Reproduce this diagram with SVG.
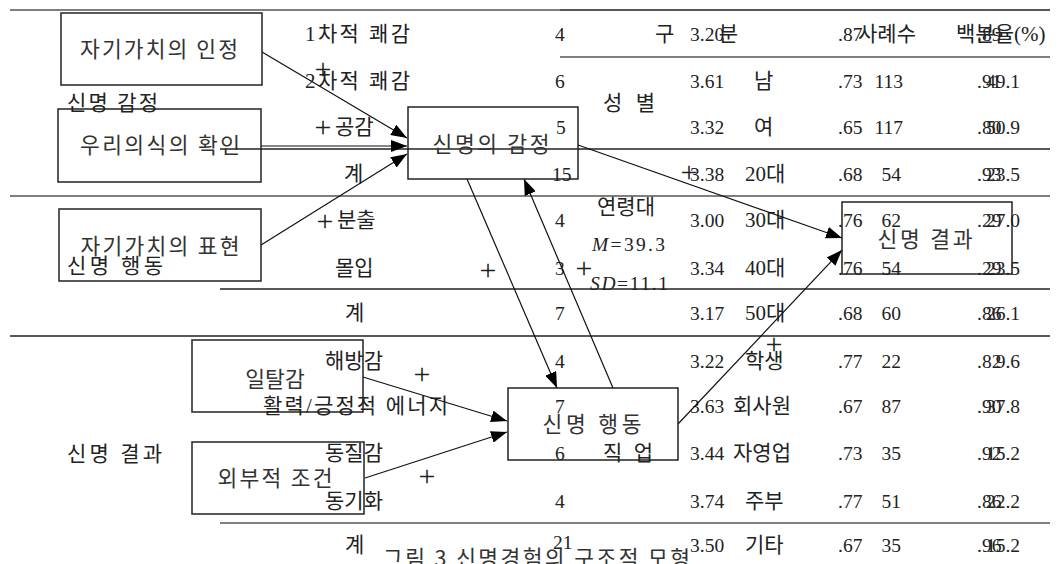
<svg xmlns="http://www.w3.org/2000/svg" width="1058" height="564" viewBox="0 0 1058 564">
<style>
.bg{fill:#fff}
.tl{stroke:#555;stroke-width:1.5;fill:none}
.tk{stroke:#222;stroke-width:1.5;fill:none}
.t{font-family:"Liberation Serif","Noto Sans CJK KR",serif;font-size:19.5px;fill:#222}
.k{font-family:"Liberation Serif","Noto Sans CJK KR",serif;font-size:21px;fill:#222}
.e{text-anchor:end}
.i{font-style:italic}
.p{font-family:"Liberation Serif",serif;font-size:30px;fill:#222;text-anchor:middle}
.box{fill:none;stroke:#222;stroke-width:1.5}
.n{font-family:"Noto Sans CJK KR",sans-serif;font-size:21.5px;fill:#333;text-anchor:middle}
.c{stroke:#111;stroke-width:1.2;fill:none;marker-end:url(#ah)}
</style>
<defs>
<marker id="ah" markerUnits="userSpaceOnUse" markerWidth="16" markerHeight="12" refX="16" refY="6" orient="auto">
<path d="M0,0 L16,6 L0,12 z" fill="#000"/>
</marker>
</defs>
<rect class="bg" x="0" y="0" width="1058" height="564"/>

<g id="table-lines">
<line class="tl" x1="10" y1="10" x2="560" y2="10"/>
<line class="tk" x1="560" y1="10" x2="1050" y2="10"/>
<line class="tl" x1="560" y1="57" x2="1050" y2="57"/>
<line class="tk" x1="220" y1="149" x2="1050" y2="149"/>
<line class="tl" x1="10" y1="196" x2="1050" y2="196"/>
<line class="tk" x1="220" y1="289" x2="1050" y2="289"/>
<line class="tk" x1="10" y1="336" x2="1050" y2="336"/>
<line class="tl" x1="220" y1="523" x2="1050" y2="523"/>
</g>

<g id="table-text">
<text class="k" x="67" y="110" textLength="91" lengthAdjust="spacing">신명 감정</text>
<text class="k" x="67" y="273" textLength="96" lengthAdjust="spacing">신명 행동</text>
<text class="k" x="67" y="461" textLength="95" lengthAdjust="spacing">신명 결과</text>

<text class="k" x="305" y="41" textLength="105" lengthAdjust="spacing">1차적 쾌감</text>
<text class="k" x="305" y="88" textLength="105" lengthAdjust="spacing">2차적 쾌감</text>
<text class="p" x="323" y="137">+</text>
<text class="k" x="335" y="134">공감</text>
<text class="k" x="344" y="181">계</text>
<text class="p" x="325" y="231">+</text>
<text class="k" x="337" y="227">분출</text>
<text class="k" x="335" y="275">몰입</text>
<text class="k" x="345" y="320">계</text>
<text class="k" x="325" y="368">해방감</text>
<text class="k" x="263" y="413" textLength="185" lengthAdjust="spacing">활력/긍정적 에너지</text>
<text class="k" x="325" y="460">동질감</text>
<text class="k" x="325" y="508">동기화</text>
<text class="k" x="345" y="552">계</text>

<text class="t" x="555" y="41">4</text>
<text class="t" x="555" y="88">6</text>
<text class="t" x="556" y="134">5</text>
<text class="t" x="552" y="181">15</text>
<text class="t" x="555" y="227">4</text>
<text class="t" x="555" y="275">3</text>
<text class="t" x="555" y="320">7</text>
<text class="t" x="555" y="368">4</text>
<text class="t" x="555" y="413">7</text>
<text class="t" x="555" y="460">6</text>
<text class="t" x="555" y="508">4</text>
<text class="t" x="553" y="549">21</text>

<text class="t" x="690" y="41">3.20</text>
<text class="t" x="690" y="88">3.61</text>
<text class="t" x="690" y="134">3.32</text>
<text class="t" x="690" y="181">3.38</text>
<text class="t" x="690" y="227">3.00</text>
<text class="t" x="690" y="275">3.34</text>
<text class="t" x="690" y="320">3.17</text>
<text class="t" x="690" y="368">3.22</text>
<text class="t" x="690" y="413">3.63</text>
<text class="t" x="690" y="460">3.44</text>
<text class="t" x="690" y="508">3.74</text>
<text class="t" x="690" y="552">3.50</text>

<text class="t" x="838" y="41">.87</text>
<text class="t" x="838" y="88">.73</text>
<text class="t" x="838" y="134">.65</text>
<text class="t" x="838" y="181">.68</text>
<text class="t" x="838" y="227">.76</text>
<text class="t" x="838" y="275">.76</text>
<text class="t" x="838" y="320">.68</text>
<text class="t" x="838" y="368">.77</text>
<text class="t" x="838" y="413">.67</text>
<text class="t" x="838" y="460">.73</text>
<text class="t" x="838" y="508">.77</text>
<text class="t" x="838" y="552">.67</text>

<text class="t" x="977" y="41">.89</text>
<text class="t" x="977" y="88">.91</text>
<text class="t" x="977" y="134">.80</text>
<text class="t" x="977" y="181">.93</text>
<text class="t" x="977" y="227">.29</text>
<text class="t" x="977" y="275">.29</text>
<text class="t" x="977" y="320">.86</text>
<text class="t" x="977" y="368">.82</text>
<text class="t" x="977" y="413">.90</text>
<text class="t" x="977" y="460">.92</text>
<text class="t" x="977" y="508">.86</text>
<text class="t" x="977" y="552">.96</text>

<text class="k" x="655" y="41" textLength="83" lengthAdjust="spacing">구 분</text>
<text class="k" x="858" y="41">사례수</text>
<text class="k" x="956" y="41">백분율(%)</text>

<text class="k" x="603" y="110" textLength="52" lengthAdjust="spacing">성 별</text>
<text class="k" x="597" y="214">연령대</text>
<text class="t" x="592" y="251" textLength="73" lengthAdjust="spacing"><tspan class="i">M</tspan>=39.3</text>
<text class="t" x="590" y="290" textLength="78" lengthAdjust="spacing"><tspan class="i">SD</tspan>=11.1</text>
<text class="k" x="603" y="460" textLength="50" lengthAdjust="spacing">직 업</text>

<text class="k" x="754" y="88">남</text>
<text class="k" x="754" y="134">여</text>
<text class="k" x="745" y="181">20대</text>
<text class="k" x="745" y="227">30대</text>
<text class="k" x="745" y="275">40대</text>
<text class="k" x="745" y="320">50대</text>
<text class="k" x="745" y="368">학생</text>
<text class="k" x="733" y="413">회사원</text>
<text class="k" x="733" y="460">자영업</text>
<text class="k" x="745" y="508">주부</text>
<text class="k" x="745" y="552">기타</text>

<text class="t e" x="903" y="88">113</text>
<text class="t e" x="903" y="134">117</text>
<text class="t e" x="901" y="181">54</text>
<text class="t e" x="901" y="227">62</text>
<text class="t e" x="901" y="275">54</text>
<text class="t e" x="901" y="320">60</text>
<text class="t e" x="901" y="368">22</text>
<text class="t e" x="901" y="413">87</text>
<text class="t e" x="901" y="460">35</text>
<text class="t e" x="901" y="508">51</text>
<text class="t e" x="901" y="552">35</text>

<text class="t e" x="1020" y="88">49.1</text>
<text class="t e" x="1020" y="134">50.9</text>
<text class="t e" x="1020" y="181">23.5</text>
<text class="t e" x="1020" y="227">27.0</text>
<text class="t e" x="1020" y="275">23.5</text>
<text class="t e" x="1020" y="320">26.1</text>
<text class="t e" x="1020" y="368">9.6</text>
<text class="t e" x="1020" y="413">37.8</text>
<text class="t e" x="1020" y="460">15.2</text>
<text class="t e" x="1020" y="508">22.2</text>
<text class="t e" x="1020" y="552">15.2</text>
</g>

<g id="signs">
<text class="p" x="323" y="79">+</text>
<text class="p" x="689" y="182">+</text>
<text class="p" x="488" y="280">+</text>
<text class="p" x="584" y="278">+</text>
<text class="p" x="422" y="384">+</text>
<text class="p" x="774" y="354">+</text>
<text class="p" x="427" y="486">+</text>
</g>

<g id="connectors">
<line class="c" x1="262" y1="52" x2="407" y2="138"/>
<line class="c" x1="261" y1="146" x2="407" y2="146"/>
<line class="c" x1="261" y1="245" x2="407" y2="154"/>
<line class="c" x1="467" y1="179" x2="557" y2="388"/>
<line class="c" x1="613" y1="388" x2="524" y2="179"/>
<line class="c" x1="578" y1="145" x2="842" y2="238"/>
<line class="c" x1="678" y1="424" x2="842" y2="250"/>
<line class="c" x1="363" y1="377" x2="507" y2="421"/>
<line class="c" x1="365" y1="478" x2="507" y2="432"/>
</g>

<g id="node-self-worth-recognition">
<rect class="box" x="61" y="13" width="201" height="72"/>
<text class="n" x="159" y="57" textLength="158" lengthAdjust="spacing">자기가치의 인정</text>
</g>
<g id="node-we-consciousness">
<rect class="box" x="58" y="109" width="203" height="73"/>
<text class="n" x="160" y="153" textLength="160" lengthAdjust="spacing">우리의식의 확인</text>
</g>
<g id="node-self-worth-expression">
<rect class="box" x="59" y="209" width="202" height="72"/>
<text class="n" x="160" y="254" textLength="159" lengthAdjust="spacing">자기가치의 표현</text>
</g>
<g id="node-deviation">
<rect class="box" x="192" y="340" width="171" height="72"/>
<text class="n" x="275" y="387">일탈감</text>
</g>
<g id="node-external">
<rect class="box" x="192" y="442" width="172" height="72"/>
<text class="n" x="275" y="486" textLength="115" lengthAdjust="spacing">외부적 조건</text>
</g>
<g id="node-emotion">
<rect class="box" x="408" y="107" width="170" height="72"/>
<text class="n" x="491" y="152" textLength="117" lengthAdjust="spacing">신명의 감정</text>
</g>
<g id="node-behavior">
<rect class="box" x="508" y="388" width="170" height="72"/>
<text class="n" x="592" y="432" textLength="99" lengthAdjust="spacing">신명 행동</text>
</g>
<g id="node-result">
<rect class="box" x="842" y="202" width="170" height="72"/>
<text class="n" x="925" y="247" textLength="95" lengthAdjust="spacing">신명 결과</text>
</g>

<text class="n" x="383" y="566" style="text-anchor:start" textLength="307" lengthAdjust="spacing">그림 3  신명경험의 구조적 모형</text>
</svg>
